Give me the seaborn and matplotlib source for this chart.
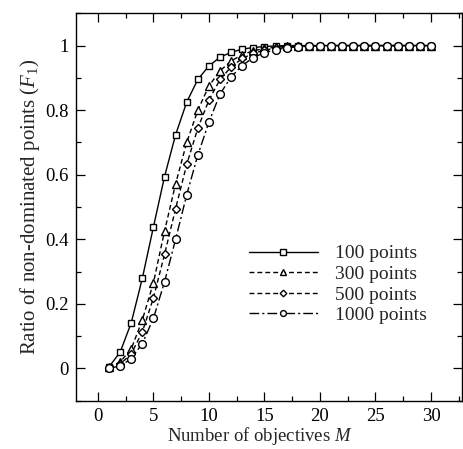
import numpy as np
import pandas as pd
import matplotlib
matplotlib.use("Agg")
import matplotlib.pyplot as plt
from matplotlib.ticker import MultipleLocator
import seaborn as sns

# ---- data ----
M = list(range(1, 31))
pts100 = [0.005, 0.05, 0.141, 0.279, 0.438, 0.594, 0.724, 0.825, 0.895, 0.937,
          0.964, 0.979, 0.989, 0.994, 0.997, 0.999] + [1.0] * 14
pts300 = [0.003, 0.02, 0.06, 0.15, 0.265, 0.425, 0.572, 0.70, 0.80, 0.875,
          0.922, 0.952, 0.972, 0.984, 0.991, 0.995, 0.998, 0.999] + [1.0] * 12
pts500 = [0.002, 0.013, 0.045, 0.113, 0.218, 0.353, 0.495, 0.632, 0.744, 0.831,
          0.895, 0.934, 0.960, 0.976, 0.986, 0.992, 0.996, 0.998, 0.999] + [1.0] * 11
pts1000 = [0.001, 0.007, 0.03, 0.077, 0.155, 0.268, 0.40, 0.538, 0.661, 0.763,
           0.850, 0.903, 0.938, 0.963, 0.978, 0.987, 0.993, 0.996, 0.998, 0.999] + [1.0] * 10
labels = ["100 points", "300 points", "500 points", "1000 points"]
series = [pts100, pts300, pts500, pts1000]

sns.set_style("ticks")
plt.rcParams["font.family"] = ["Liberation Serif", "DejaVu Serif"]
plt.rcParams["mathtext.fontset"] = "custom"
plt.rcParams["mathtext.rm"] = "Liberation Serif"
plt.rcParams["mathtext.it"] = "Liberation Serif:italic"

fig = plt.figure(figsize=(4.63, 4.49), dpi=100)
ax = fig.add_axes([0.1635, 0.1076, 0.8345, 0.8628])

markers = ["s", "^", "D", "o"]
msizes = [5.0, 5.8, 4.5, 5.6]
styles = ["-", (0, (3.5, 2.2)), (0, (3.5, 2.2)), (0, (7.0, 2.2, 1.5, 2.2))]

for lab, vals, mk, ms, ls in zip(labels, series, markers, msizes, styles):
    df = pd.DataFrame({"M": M, "ratio": vals})
    sns.lineplot(data=df, x="M", y="ratio", ax=ax, color="black", lw=1.0,
                 linestyle=ls, marker=mk, markersize=ms, markerfacecolor="white",
                 markeredgecolor="black", markeredgewidth=1.0, label=lab)

ax.set_xlim(-2, 32.8)
ax.set_ylim(-0.1, 1.1)
ax.xaxis.set_major_locator(MultipleLocator(5))
ax.xaxis.set_minor_locator(MultipleLocator(2.5))
ax.yaxis.set_major_locator(MultipleLocator(0.2))
ax.yaxis.set_minor_locator(MultipleLocator(0.1))
ax.set_yticks([0, 0.2, 0.4, 0.6, 0.8, 1.0])
ax.set_yticklabels(["0", "0.2", "0.4", "0.6", "0.8", "1"])
ax.tick_params(which="both", direction="in", top=True, right=True, labelsize=13.5,
               width=0.9, colors="black")
ax.tick_params(which="major", length=6.5, pad=5)
ax.tick_params(which="minor", length=3.5)
for s in ax.spines.values():
    s.set_linewidth(1.0)
    s.set_color("black")

ax.set_xlabel("Number of objectives $M$", fontsize=13.5, labelpad=1)
ax.xaxis.set_label_coords(0.477, -0.062)
ax.set_ylabel("Ratio of non-dominated points ($F_1$)", fontsize=15, labelpad=2)

ax.legend(loc="center left", bbox_to_anchor=(0.4227, 0.30), frameon=False,
          fontsize=14, handlelength=3.55, handletextpad=0.88, labelspacing=0.155,
          borderpad=0, markerscale=0.75, numpoints=1)

fig.savefig("out.png", dpi=100)
